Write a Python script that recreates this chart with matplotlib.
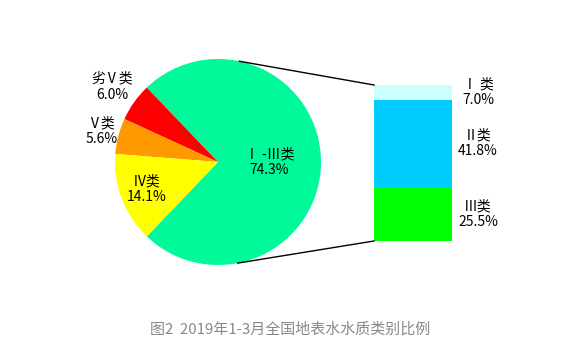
import matplotlib.pyplot as plt
import numpy as np

plt.rcParams['font.family'] = ['Noto Sans CJK SC', 'DejaVu Sans']

# Data
pie_labels = ["Ⅰ -Ⅲ类", "劣Ⅴ类", "Ⅴ类", "Ⅳ类"]
pie_values = [74.3, 6.0, 5.6, 14.1]
pie_colors = ['#00FA9A', '#FF0000', '#FF9900', '#FFFF00']

bar_labels = ["Ⅲ类", "Ⅱ类", "Ⅰ 类"]
bar_values = [25.5, 41.8, 7.0]
bar_colors = ['#00FF00', '#00CCFF', '#CCFFFF']

caption = "图2  2019年1-3月全国地表水水质类别比例"

W, H = 582, 357
fig = plt.figure(figsize=(W / 100, H / 100), dpi=100)
ax = fig.add_axes([0, 0, 1, 1])
ax.set_aspect('equal')

# pie
cx, cy, r = 218, 195, 103
half = pie_values[0] / 100 * 360 / 2
wedges, _ = ax.pie(pie_values, colors=pie_colors, startangle=-half,
                   center=(cx, cy), radius=r, frame=True)
ax.set_xlim(0, W)
ax.set_ylim(0, H)
ax.axis('off')

label_dist = [0.5, 1.26, 1.17, 0.74]
for w, lab, val, d in zip(wedges, pie_labels, pie_values, label_dist):
    ang = np.deg2rad((w.theta1 + w.theta2) / 2)
    ax.text(cx + d * r * np.cos(ang), cy + d * r * np.sin(ang),
            f"{lab}\n{val:.1f}%", ha='center', va='center',
            fontsize=10, linespacing=1.15)

# stacked bar
bx, bw = 413, 78
bar_bottom = 116
scale = 156 / sum(bar_values)
bottom = bar_bottom
for lab, val, col in zip(bar_labels, bar_values, bar_colors):
    ax.bar(bx, val * scale, width=bw, bottom=bottom, color=col)
    ax.text(478, bottom + val * scale / 2, f"{lab}\n{val:.1f}%",
            ha='center', va='center', fontsize=10, linespacing=1.15)
    bottom += val * scale

# connecting lines
for a, by in [(78, bar_bottom + 156), (-79, bar_bottom)]:
    t = np.deg2rad(a)
    ax.plot([cx + r * np.cos(t), bx - bw / 2], [cy + r * np.sin(t), by],
            color='black', lw=1)

fig.text(290 / W, 1 - 330 / H, caption, ha='center', va='center',
         fontsize=10.8, color='#888888')

fig.savefig('out.png', dpi=100)
